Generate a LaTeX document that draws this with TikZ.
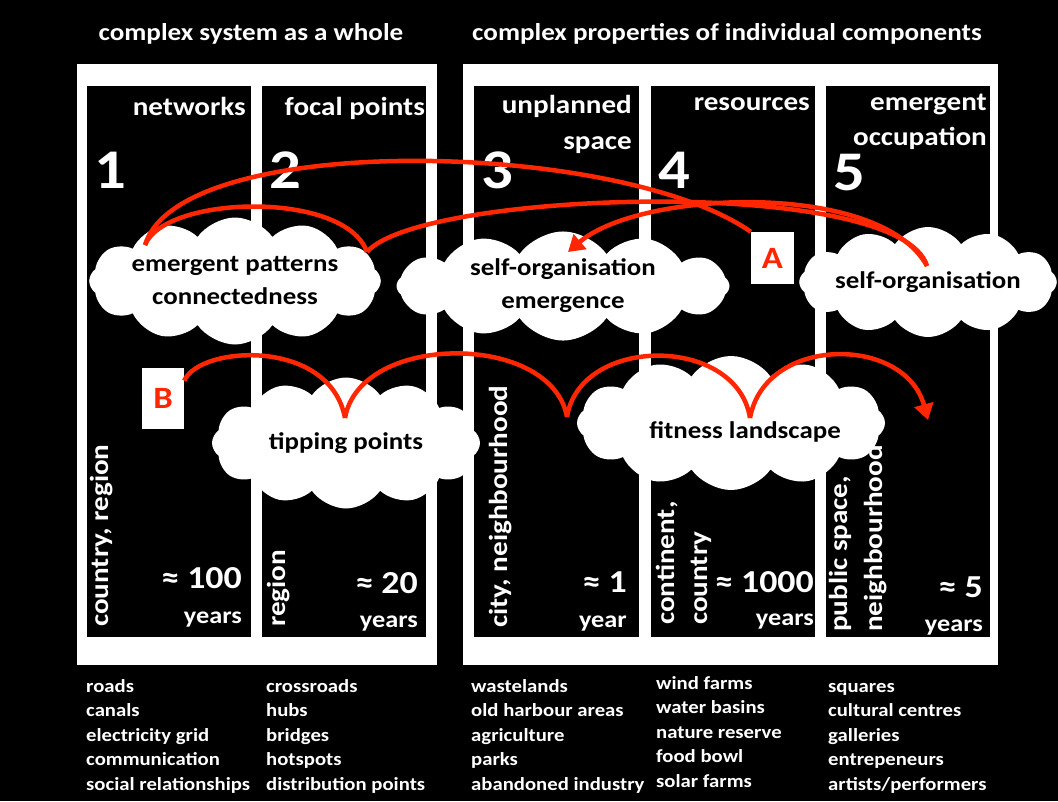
\documentclass[tikz,border=0pt]{standalone}
\usepackage{fontspec}
\setmainfont{Carlito}[FakeStretch=1.12]
\usepackage{tikz}
\usetikzlibrary{shapes.symbols,arrows.meta,positioning}
\definecolor{arrowred}{RGB}{255,38,0}

\begin{document}
\begin{tikzpicture}[x=1pt,y=-1pt,
  every node/.style={inner sep=0pt},
  title/.style={text=white,font=\bfseries\fontsize{24.2}{28}\selectfont,anchor=base},
  head/.style={text=white,font=\bfseries\fontsize{26}{30}\selectfont,anchor=base east},
  bignum/.style={text=white,font=\bfseries\fontsize{56}{60}\selectfont,anchor=base west},
  approx/.style={text=white,font=\bfseries\fontsize{32}{36}\selectfont,anchor=base east},
  years/.style={text=white,font=\bfseries\fontsize{23.5}{28}\selectfont,anchor=base east},
  scalelabel/.style={text=white,font=\bfseries\fontsize{26}{30}\selectfont,rotate=90,anchor=base west},
  bubble/.style={cloud,cloud puffs=12,cloud puff arc=110,cloud ignores aspect,fill=white,align=center,
    font=\bfseries\fontsize{24}{33}\selectfont},
  redline/.style={draw=arrowred,line width=4.5pt},
  letterbox/.style={fill=white,text=arrowred,font=\bfseries\fontsize{31}{34}\selectfont},
  item/.style={text=white,font=\bfseries\fontsize{18.5}{23}\selectfont,anchor=base west}
]
\useasboundingbox (0,0) rectangle (1058,801);
\fill[black] (0,0) rectangle (1058,801);

% titles
\node[title] (whole) at (251,40) {complex system as a whole};
\node[title] (parts) at (727,40) {complex properties of individual components};

% frames and columns
\fill[white] (77,64) rectangle (437,665);
\fill[white] (463,64) rectangle (998,665);
\foreach \x/\w in {87/164,262/164,474/165,651/164,826/164}
  \fill[black] (\x,86) rectangle ++(\w,551);

% column heads
\node[head] (networks) at (246,115) {networks};
\node[head] (focal) at (425,115) {focal points};
\node[head] (unplanned) at (632,113) {unplanned};
\node[head] (space) at (632,149) {space};
\node[head] (resources) at (810,110) {resources};
\node[head] (emergent) at (987,110) {emergent};
\node[head] (occupation) at (987,145) {occupation};

\node[bignum] (n1) at (94,188) {1};
\node[bignum] (n2) at (269,188) {2};
\node[bignum] (n3) at (481,188) {3};
\node[bignum] (n4) at (658,188) {4};
\node[bignum] (n5) at (833,190) {5};

% scales and time spans
\node[scalelabel] (s1) at (108,627) {country, region};
\node[scalelabel] (s2) at (285,627) {region};
\node[scalelabel] (s3) at (507,628) {city, neighbourhood};
\node[scalelabel] (s4a) at (674,625) {continent,};
\node[scalelabel] (s4b) at (707,625) {country};
\node[scalelabel] (s5a) at (847,632) {public space,};
\node[scalelabel] (s5b) at (882,632) {neighbourhood};

\node[approx] (t1) at (242,588) {≈ 100};
\node[approx] (t2) at (418,593) {≈ 20};
\node[approx] (t3) at (627,592) {≈ 1};
\node[approx] (t4) at (814,592) {≈ 1000};
\node[approx] (t5) at (983,597) {≈ 5};
\node[years] (y1) at (242,623) {years};
\node[years] (y2) at (418,627) {years};
\node[years] (y3) at (627,627) {year};
\node[years] (y4) at (814,625) {years};
\node[years] (y5) at (983,631) {years};

% clouds
\node[bubble,minimum width=280pt,minimum height=127pt] (patterns) at (235,281) {emergent patterns\\connectedness};
\node[bubble,minimum width=333pt,minimum height=102pt] (selforg) at (563,286) {self-organisation\\emergence};
\node[bubble,minimum width=207pt,minimum height=110pt] (occupy) at (928,282) {self-organisation};
\node[bubble,minimum width=268pt,minimum height=131pt] (tipping) at (346,443) {tipping points};
\node[bubble,minimum width=308pt,minimum height=134pt] (fitness) at (731,423) {};
\node[font=\bfseries\fontsize{24}{33}\selectfont,anchor=base] (fitnesstext) at (745,438) {fitness landscape};

% letter boxes
\node[letterbox,minimum width=43pt,minimum height=52pt] (boxA) at (772.5,258) {A};
\node[letterbox,minimum width=42pt,minimum height=61pt] (boxB) at (163,398.5) {B};

% arrows
\coordinate (c1l) at (145,245);
\coordinate (c1r) at (367,252);
\coordinate (c3top) at (927,266);
\coordinate (c2tip) at (568,252);
\coordinate (c4top) at (345,418);
\coordinate (c5l) at (567,417);
\coordinate (c5top) at (750,418);
\coordinate (c5end) at (928,420);

\draw[redline] (c1l) .. controls (180,130) and (620,140) .. (boxA.north west);
\draw[redline] (c1l) .. controls (165,195) and (345,190) .. (c1r);
\draw[redline] (c1r) .. controls (420,190) and (900,175) .. (c3top);
\draw[redline,-{Triangle[length=16pt,width=19pt]}] (c3top) .. controls (880,180) and (640,190) .. (c2tip);

\draw[redline] (boxB.40) .. controls (200,345) and (330,338) .. (c4top);
\draw[redline] (c4top) .. controls (360,332) and (552,332) .. (c5l);
\draw[redline] (c5l) .. controls (580,335) and (737,335) .. (c5top);
\draw[redline,-{Triangle[length=16pt,width=19pt]}] (c5top) .. controls (765,335) and (905,335) .. (c5end);

% examples
\foreach \t [count=\i from 0] in {roads,canals,electricity grid,communication,social relationships}
  \node[item] (ex1-\i) at (86,{692+24.6*\i}) {\t};
\foreach \t [count=\i from 0] in {crossroads,hubs,bridges,hotspots,distribution points}
  \node[item] (ex2-\i) at (266,{692+24.6*\i}) {\t};
\foreach \t [count=\i from 0] in {wastelands,old harbour areas,agriculture,parks,abandoned industry}
  \node[item] (ex3-\i) at (471,{692+24.6*\i}) {\t};
\foreach \t [count=\i from 0] in {wind farms,water basins,nature reserve,food bowl,solar farms}
  \node[item] (ex4-\i) at (656,{689+24.6*\i}) {\t};
\foreach \t [count=\i from 0] in {squares,cultural centres,galleries,entrepeneurs,artists/performers}
  \node[item] (ex5-\i) at (828,{692+24.6*\i}) {\t};
\end{tikzpicture}
\end{document}
